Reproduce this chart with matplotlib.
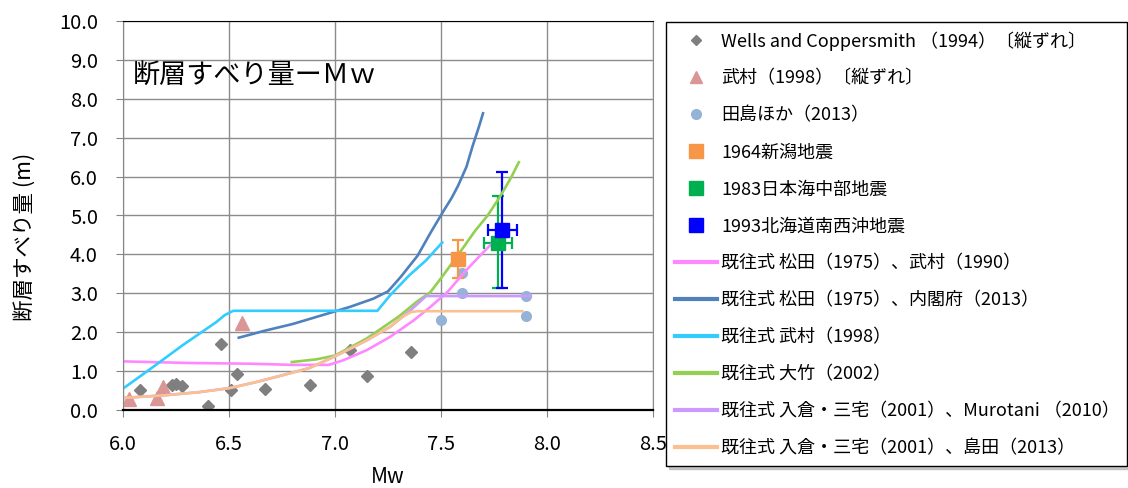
import numpy as np
import matplotlib
matplotlib.use("Agg")
import matplotlib.pyplot as plt
from matplotlib.lines import Line2D

plt.rcParams['font.family'] = ['Noto Sans CJK JP', 'DejaVu Sans']

# observed data
wells_mw = [6.08, 6.23, 6.25, 6.28, 6.40, 6.46, 6.51, 6.54, 6.67, 6.88, 7.07, 7.15, 7.36]
wells_slip = [0.51, 0.65, 0.66, 0.62, 0.09, 1.69, 0.51, 0.92, 0.54, 0.64, 1.54, 0.87, 1.49]

takemura_mw = [6.03, 6.16, 6.19, 6.56]
takemura_slip = [0.27, 0.30, 0.58, 2.23]

tajima_mw = [7.50, 7.60, 7.60, 7.90, 7.90]
tajima_slip = [2.32, 3.53, 3.01, 2.93, 2.42]

# historical earthquakes: Mw, slip, Mw error, slip error (lower, upper)
niigata = dict(mw=7.58, slip=3.88, xerr=0.0, ylo=0.48, yhi=0.50)
nihonkai = dict(mw=7.77, slip=4.29, xerr=0.065, ylo=1.15, yhi=1.21)
hokkaido = dict(mw=7.79, slip=4.64, xerr=0.07, ylo=1.50, yhi=1.49)

# empirical relations
matsuda_takemura_mw = [6.00, 6.30, 6.60, 6.80, 6.97, 7.04, 7.15, 7.26, 7.37, 7.45, 7.53, 7.62, 7.69, 7.74]
matsuda_takemura_slip = [1.25, 1.21, 1.19, 1.16, 1.16, 1.28, 1.54, 1.88, 2.30, 2.65, 3.03, 3.60, 4.00, 4.28]

matsuda_cabinet_mw = [6.54, 6.67, 6.80, 6.96, 7.07, 7.18, 7.25, 7.31, 7.39, 7.45, 7.51, 7.55, 7.58, 7.62, 7.65, 7.68, 7.70]
matsuda_cabinet_slip = [1.85, 2.04, 2.21, 2.47, 2.65, 2.86, 3.05, 3.42, 3.97, 4.55, 5.10, 5.45, 5.76, 6.25, 6.80, 7.30, 7.66]

takemura98_mw = [6.00, 6.12, 6.28, 6.44, 6.48, 6.52, 7.20, 7.26, 7.35, 7.43, 7.51]
takemura98_slip = [0.55, 1.02, 1.66, 2.26, 2.44, 2.55, 2.55, 2.95, 3.46, 3.85, 4.33]

otake_mw = [6.79, 6.91, 7.00, 7.15, 7.30, 7.385, 7.45, 7.51, 7.59, 7.66, 7.72, 7.78, 7.83, 7.87]
otake_slip = [1.23, 1.30, 1.40, 1.84, 2.40, 2.78, 3.03, 3.46, 4.06, 4.60, 5.00, 5.50, 5.97, 6.40]

irikura_murotani_mw = [6.00, 6.20, 6.36, 6.50, 6.63, 6.75, 6.88, 7.00, 7.15, 7.26, 7.32, 7.36, 7.43, 7.93]
irikura_murotani_slip = [0.31, 0.38, 0.46, 0.56, 0.72, 0.89, 1.08, 1.38, 1.79, 2.14, 2.40, 2.58, 2.93, 2.93]

irikura_shimada_mw = [6.00, 6.20, 6.36, 6.50, 6.63, 6.75, 6.88, 7.00, 7.15, 7.26, 7.32, 7.36, 7.39, 7.89]
irikura_shimada_slip = [0.31, 0.38, 0.46, 0.56, 0.72, 0.89, 1.08, 1.38, 1.79, 2.14, 2.40, 2.52, 2.54, 2.54]

labels = [
    "Wells and Coppersmith （1994）〔縦ずれ〕",
    "武村（1998）〔縦ずれ〕",
    "田島ほか（2013）",
    "1964新潟地震",
    "1983日本海中部地震",
    "1993北海道南西沖地震",
    "既往式 松田（1975）、武村（1990）",
    "既往式 松田（1975）、内閣府（2013）",
    "既往式 武村（1998）",
    "既往式 大竹（2002）",
    "既往式 入倉・三宅（2001）、Murotani （2010）",
    "既往式 入倉・三宅（2001）、島田（2013）",
]

c_wells = "#7f7f7f"
c_takemura = "#d99694"
c_tajima = "#95b3d7"
c_niigata = "#f79646"
c_nihonkai = "#00b050"
c_hokkaido = "#0000ff"
line_colors = ["#ff88ff", "#4f81bd", "#33ccff", "#92d050", "#cc99ff", "#fac090"]

W, H = 1128, 488
fig = plt.figure(figsize=(W / 100, H / 100), dpi=100)
ax = fig.add_axes([123 / W, 1 - 410 / H, 530 / W, 389 / H])

ax.plot(wells_mw, wells_slip, ls="none", marker="D", ms=6.6, color=c_wells)
ax.plot(takemura_mw, takemura_slip, ls="none", marker="^", ms=10, color=c_takemura)
ax.plot(tajima_mw, tajima_slip, ls="none", marker="o", ms=7, color=c_tajima)

for q, c in [(niigata, c_niigata), (nihonkai, c_nihonkai), (hokkaido, c_hokkaido)]:
    xerr = [[q["xerr"]], [q["xerr"]]] if q["xerr"] else None
    ax.errorbar([q["mw"]], [q["slip"]], xerr=xerr, yerr=[[q["ylo"]], [q["yhi"]]],
                fmt="s", ms=10, color=c, ecolor=c, elinewidth=1.6,
                capsize=4, capthick=1.6)

curves = [
    (matsuda_takemura_mw, matsuda_takemura_slip),
    (matsuda_cabinet_mw, matsuda_cabinet_slip),
    (takemura98_mw, takemura98_slip),
    (otake_mw, otake_slip),
    (irikura_murotani_mw, irikura_murotani_slip),
    (irikura_shimada_mw, irikura_shimada_slip),
]
for (x, y), c in zip(curves, line_colors):
    ax.plot(x, y, color=c, lw=1.9, solid_capstyle="butt")

ax.set_xlim(6.0, 8.5)
ax.set_ylim(0, 10)
ax.set_xticks(np.arange(6.0, 8.51, 0.5))
ax.set_yticks(np.arange(0, 10.1, 1.0))
ax.xaxis.set_major_formatter(plt.FormatStrFormatter("%.1f"))
ax.yaxis.set_major_formatter(plt.FormatStrFormatter("%.1f"))
ax.grid(color="#8c8c8c", lw=1.0)
ax.set_axisbelow(True)
ax.tick_params(axis="both", direction="out", length=5, color="#868686",
               labelsize=14.5)
ax.tick_params(axis="y", pad=13)
ax.tick_params(axis="x", pad=12)
ax.spines["bottom"].set_color("black")
ax.spines["bottom"].set_linewidth(1.6)
ax.spines["top"].set_color("black")
ax.spines["left"].set_color("#868686")
ax.spines["right"].set_color("#8c8c8c")

# axis titles placed in figure pixels
fig.text(388 / W, 1 - 483 / H, "Mw", fontsize=15, ha="center", va="baseline")
fig.text(26 / W, 1 - 237 / H, "断層すべり量 (m)", fontsize=15.5,
         rotation=90, ha="center", va="center")

ax.text(0.019, 0.861, "断層すべり量ーＭｗ", transform=ax.transAxes,
        fontsize=19.5, va="center", ha="left")

handles = [
    Line2D([], [], ls="none", marker="D", ms=5.5, color=c_wells),
    Line2D([], [], ls="none", marker="^", ms=9, color=c_takemura),
    Line2D([], [], ls="none", marker="o", ms=7, color=c_tajima),
    Line2D([], [], ls="none", marker="s", ms=9.5, color=c_niigata),
    Line2D([], [], ls="none", marker="s", ms=9.5, color=c_nihonkai),
    Line2D([], [], ls="none", marker="s", ms=9.5, color=c_hokkaido),
] + [Line2D([], [], color=c, lw=3) for c in line_colors]

leg = fig.legend(handles, labels, loc="upper left",
                 bbox_to_anchor=(666 / W, 1 - 22 / H, 461 / W, 0),
                 bbox_transform=fig.transFigure, mode="expand",
                 fontsize=13, frameon=True, fancybox=False,
                 edgecolor="black", borderpad=0.5, labelspacing=1.05,
                 handlelength=2.3, handletextpad=0.25, borderaxespad=0,
                 shadow={"color": "#999999", "alpha": 0.5})
leg.get_frame().set_linewidth(1.0)

fig.savefig("out.png", dpi=100)
